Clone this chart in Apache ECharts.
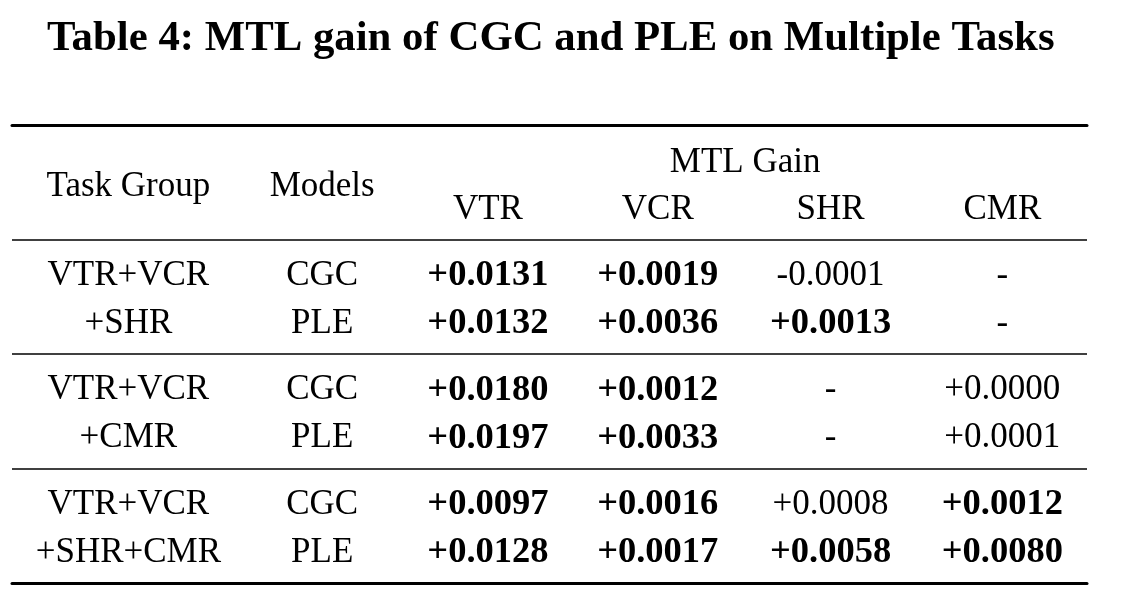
<!DOCTYPE html>
<html><head><meta charset="utf-8">
<script src="https://cdn.jsdelivr.net/npm/echarts@6/dist/echarts.min.js"></script>
<style>html,body{margin:0;padding:0;background:#fff}#c{width:1126px;height:592px}</style>
</head><body><div id="c"></div>
<script>
// ---- data ----
const titleText = 'Table 4: MTL gain of CGC and PLE on Multiple Tasks';
const stubHeaders = ['Task Group', 'Models'];
const spanHeader = 'MTL Gain';
const metrics = ['VTR', 'VCR', 'SHR', 'CMR'];
const groupLine1 = ['VTR+VCR', 'VTR+VCR', 'VTR+VCR'];
const groupLine2 = ['+SHR', '+CMR', '+SHR+CMR'];
const models = ['CGC', 'PLE'];
const cgcGain = [
  [0.0131, 0.0019, -0.0001, null],
  [0.0180, 0.0012, null, 0.0000],
  [0.0097, 0.0016, 0.0008, 0.0012]
];
const pleGain = [
  [0.0132, 0.0036, 0.0013, null],
  [0.0197, 0.0033, null, 0.0001],
  [0.0128, 0.0017, 0.0058, 0.0080]
];
const cgcBold = [
  [true, true, false, false],
  [true, true, false, false],
  [true, true, false, true]
];
const pleBold = [
  [true, true, true, false],
  [true, true, false, false],
  [true, true, true, true]
];
const rowBands = ['header', 'group1', 'group2', 'group3'];

// ---- style ----
const FONT = 'Liberation Serif';
const FS = 35;
const FS_BOLD = 36.5;
const colNudge = [1, 20, 11, 6, 4, 1];
const lineDy = 24;
const baseDy = 3;

function fmt(v) {
  if (v === null) return '-';
  return (v < 0 ? '-' : '+') + Math.abs(v).toFixed(4);
}
function cell(text, col, band, dx, dy, bold) {
  return {
    name: text,
    value: [col, band],
    label: {
      offset: [dx, dy + baseDy],
      fontWeight: bold ? 'bold' : 'normal',
      fontSize: bold ? FS_BOLD : FS,
      color: '#000'
    }
  };
}

const headerData = [];
stubHeaders.forEach((h, i) => headerData.push(cell(h, i, 0, colNudge[i], 2, false)));
headerData.push(cell(spanHeader, (2 + 2 + metrics.length - 1) / 2, 0, 6, -22, false));
metrics.forEach((m, j) => headerData.push(cell(m, 2 + j, 0, colNudge[2 + j], 25, false)));

const bodyData = [];
groupLine1.forEach((g, k) => {
  const band = k + 1;
  bodyData.push(cell(g, 0, band, colNudge[0], -lineDy, false));
  bodyData.push(cell(groupLine2[k], 0, band, colNudge[0], lineDy, false));
  bodyData.push(cell(models[0], 1, band, colNudge[1], -lineDy, false));
  bodyData.push(cell(models[1], 1, band, colNudge[1], lineDy, false));
  metrics.forEach((m, j) => {
    bodyData.push(cell(fmt(cgcGain[k][j]), 2 + j, band, colNudge[2 + j], -lineDy, cgcBold[k][j]));
    bodyData.push(cell(fmt(pleGain[k][j]), 2 + j, band, colNudge[2 + j], lineDy, pleBold[k][j]));
  });
});

const labelBase = {
  show: true, position: 'inside', formatter: '{b}',
  fontFamily: FONT, fontSize: FS, color: '#000',
  textBorderWidth: 0, opacity: 1,
  align: 'center', verticalAlign: 'middle'
};
const xBase = {
  type: 'value', min: -0.66, max: 5.49,
  axisTick: { show: false }, axisLabel: { show: false }, splitLine: { show: false },
  axisLine: { show: true, onZero: false, lineStyle: { color: '#000', width: 3 } }
};

const chart = echarts.init(document.getElementById('c'), null, { renderer: 'canvas' });
chart.setOption({
  animation: false,
  backgroundColor: '#fff',
  title: {
    text: titleText, left: 47, top: 17, padding: 0,
    textStyle: { fontFamily: FONT, fontWeight: 'bold', fontSize: 42.8, color: '#000' }
  },
  grid: { left: 12, right: 39, top: 125, bottom: 9, containLabel: false },
  xAxis: [
    Object.assign({}, xBase, { position: 'bottom' }),
    Object.assign({}, xBase, { position: 'top' })
  ],
  yAxis: {
    type: 'category', data: rowBands, inverse: true, boundaryGap: true,
    axisLine: { show: false }, axisTick: { show: false }, axisLabel: { show: false },
    splitLine: { show: true, lineStyle: { color: '#000', width: 1.5 } }
  },
  series: [
    { type: 'scatter', name: 'header', data: headerData, symbolSize: 0, silent: true,
      itemStyle: { color: '#000', opacity: 1 }, label: labelBase },
    { type: 'scatter', name: 'body', data: bodyData, symbolSize: 0, silent: true,
      itemStyle: { color: '#000', opacity: 1 }, label: labelBase }
  ]
});
</script></body></html>
